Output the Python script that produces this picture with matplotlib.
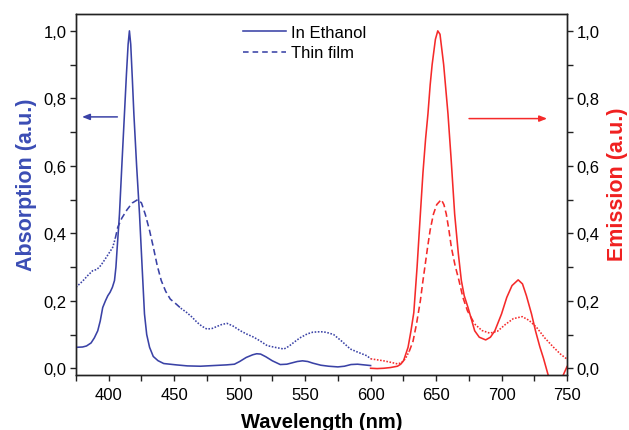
import matplotlib
matplotlib.use("Agg")
import matplotlib.pyplot as plt
from matplotlib.ticker import MultipleLocator, FuncFormatter

plt.rcParams['font.family'] = ['Liberation Sans', 'DejaVu Sans']

# Absorption in ethanol
abs_eth_x = [375, 380, 383, 386.5, 389, 391.6, 393.5, 395.4, 397.5, 399.3, 401, 402.8, 404.4, 405.5,
             406.5, 407.4, 408.2, 410, 412, 413.5, 414.8, 415.8, 416.8, 418, 419.2, 421.3, 423.5,
             425.5, 427.3, 429, 431.2, 434, 437.6, 442, 451.6, 460, 470, 480, 490, 496, 500, 505,
             510, 513, 516, 520, 525, 531, 536, 540, 544, 548, 552, 556, 562, 568, 575, 580, 585,
             590, 595, 600]
abs_eth_y = [0.062, 0.063, 0.066, 0.075, 0.09, 0.111, 0.14, 0.18, 0.2, 0.215, 0.225, 0.24, 0.26, 0.3,
             0.36, 0.41, 0.457, 0.6, 0.754, 0.87, 0.96, 1.0, 0.96, 0.86, 0.754, 0.6, 0.457, 0.3,
             0.161, 0.1, 0.062, 0.035, 0.0225, 0.014, 0.01, 0.007, 0.006, 0.008, 0.01, 0.012, 0.02,
             0.032, 0.04, 0.043, 0.042, 0.034, 0.022, 0.011, 0.012, 0.016, 0.02, 0.022, 0.02,
             0.015, 0.009, 0.006, 0.004, 0.006, 0.011, 0.012, 0.01, 0.008]

# Absorption of the thin film
abs_film_x = [375, 380, 384, 387.7, 391, 394, 397, 400, 403, 405, 406.9, 410, 414, 418, 422.2, 425,
              428, 431.2, 434, 437, 440.1, 443.5, 447, 451.6, 455, 459.3, 463.5, 467.5, 471, 475,
              479, 482.7, 486.5, 490.4, 495, 500.6, 505, 510.8, 516, 521, 527, 533.8, 537.5, 541.5,
              546, 551.7, 556, 560.6, 564, 567.5, 571.7, 578, 584.5, 590, 597.2, 600]
abs_film_y = [0.24, 0.258, 0.275, 0.289, 0.293, 0.305, 0.322, 0.34, 0.358, 0.385, 0.418, 0.445,
              0.47, 0.49, 0.5, 0.49, 0.455, 0.408, 0.36, 0.305, 0.26, 0.228, 0.205, 0.19, 0.178,
              0.166, 0.152, 0.136, 0.125, 0.116, 0.118, 0.124, 0.13, 0.133, 0.125, 0.111, 0.102,
              0.092, 0.08, 0.067, 0.062, 0.057, 0.065, 0.077, 0.09, 0.102, 0.107, 0.108, 0.108,
              0.105, 0.1, 0.08, 0.057, 0.048, 0.037, 0.028]

# Emission in ethanol
em_eth_x = [600, 605, 610, 615, 620.5, 623, 625.2, 628.6, 630.8, 633, 635.5, 638, 640, 642, 643.8,
            645.5, 647, 649.5, 651.3, 653, 655.8, 659.1, 661.5, 664.2, 667, 669.3, 671.5, 674.4,
            677, 679.5, 683, 687.9, 691.5, 694.9, 700, 704, 708, 712.7, 716, 719, 722.9, 726,
            729.3, 732, 735.6, 738, 742, 746, 750]
em_eth_y = [0.0, -0.001, 0.0, 0.002, 0.006, 0.012, 0.0225, 0.062, 0.11, 0.165, 0.3, 0.457, 0.58,
            0.68, 0.754, 0.84, 0.9, 0.975, 1.0, 0.99, 0.9, 0.754, 0.62, 0.457, 0.34, 0.26, 0.215,
            0.18, 0.145, 0.111, 0.092, 0.084, 0.092, 0.111, 0.161, 0.21, 0.245, 0.262, 0.25,
            0.215, 0.161, 0.11, 0.063, 0.03, -0.02, -0.04, -0.05, -0.03, 0.005]

# Emission of the thin film
em_film_x = [600, 605, 610, 615, 620.5, 623.5, 626.5, 629.5, 632.4, 635, 638, 640, 641.8, 643.5,
             645.5, 648, 650.5, 654, 656, 657.8, 659.8, 661.7, 664.5, 667.5, 670.5, 674, 679.5,
             685, 691, 697, 703, 709, 715.8, 721, 726.8, 733, 739.5, 745, 750]
em_film_y = [0.028, 0.025, 0.022, 0.018, 0.013, 0.016, 0.028, 0.05, 0.08, 0.13, 0.2, 0.26, 0.31,
             0.358, 0.41, 0.457, 0.485, 0.5, 0.485, 0.457, 0.41, 0.358, 0.305, 0.26, 0.21, 0.17,
             0.131, 0.112, 0.104, 0.11, 0.13, 0.147, 0.153, 0.142, 0.121, 0.09, 0.063, 0.042,
             0.027]

legend_labels = ["In Ethanol", "Thin film"]
x_ticks = [400, 450, 500, 550, 600, 650, 700, 750]
y_ticks = [0.0, 0.2, 0.4, 0.6, 0.8, 1.0]

BLUE = "#3a42a6"
RED = "#f52a2a"
AX_COLOR = "#222222"


def split_style(xs, ys, lo, hi):
    """Split a curve into dotted (flat) and dashed (steep) parts."""
    parts = [([], [], ':'), ([], [], '--'), ([], [], ':')]
    for x, y in zip(xs, ys):
        idx = 0 if x < lo else (1 if x <= hi else 2)
        parts[idx][0].append(x)
        parts[idx][1].append(y)
    # join the pieces so the curve stays continuous
    for i in range(2):
        if parts[i][0] and parts[i + 1][0]:
            parts[i][0].append(parts[i + 1][0][0])
            parts[i][1].append(parts[i + 1][1][0])
    return parts


fig = plt.figure(figsize=(6.29, 4.31), dpi=100)
ax = fig.add_axes([76 / 629, 1 - 376 / 431, 491 / 629, 361 / 431])
ax2 = ax.twinx()

lw = 1.15
h1, = ax.plot(abs_eth_x, abs_eth_y, color=BLUE, lw=lw)
for px, py, ls in split_style(abs_film_x, abs_film_y, 405, 452):
    if ls == ':':
        ax.plot(px, py, color=BLUE, lw=lw, linestyle=(0, (1, 1)))
    else:
        ax.plot(px, py, color=BLUE, lw=lw, linestyle=(0, (4, 2.2)))
h2, = ax.plot([], [], color=BLUE, lw=lw, linestyle=(0, (3.5, 2.5)))

ax2.plot(em_eth_x, em_eth_y, color=RED, lw=lw)
for px, py, ls in split_style(em_film_x, em_film_y, 628, 676):
    if ls == ':':
        ax2.plot(px, py, color=RED, lw=lw, linestyle=(0, (1, 1)))
    else:
        ax2.plot(px, py, color=RED, lw=lw, linestyle=(0, (4, 2.2)))

for a in (ax, ax2):
    a.set_xlim(375, 750)
    a.set_ylim(-0.02, 1.05)
    for s in a.spines.values():
        s.set_color(AX_COLOR)
        s.set_linewidth(1.0)

fmt = FuncFormatter(lambda v, p: f"{v:.1f}".replace('.', ','))
ax.set_xticks(x_ticks)
ax.xaxis.set_minor_locator(MultipleLocator(25))
ax.set_yticks(y_ticks)
ax.yaxis.set_minor_locator(MultipleLocator(0.1))
ax.yaxis.set_major_formatter(fmt)
ax2.set_yticks(y_ticks)
ax2.yaxis.set_minor_locator(MultipleLocator(0.1))
ax2.yaxis.set_major_formatter(fmt)

ax.tick_params(axis='x', which='both', direction='out', length=4, width=1.0,
               color=AX_COLOR, labelsize=12, pad=5, top=False)
ax.tick_params(axis='y', which='both', direction='out', length=4, width=1.0,
               color=AX_COLOR, labelsize=12, pad=3, right=False)
ax2.tick_params(axis='y', which='both', direction='out', length=4, width=1.0,
                color=AX_COLOR, labelsize=12, pad=3, left=False)

ax.set_xlabel("Wavelength (nm)", fontsize=14.5, fontweight='bold', color='black')
ax.xaxis.set_label_coords(0.5, -0.103)
ax.set_ylabel("Absorption (a.u.)", fontsize=15.5, fontweight='bold', color="#3b4db5")
ax.yaxis.set_label_coords(-0.1, 0.53)
ax.yaxis.label.set_va('center')
ax2.set_ylabel("Emission (a.u.)", fontsize=15.5, fontweight='bold', color="#f02020",
               rotation=90)
ax2.yaxis.set_label_coords(1.102, 0.53)
ax2.yaxis.label.set_va('center')

ax.annotate("", xy=(379.6, 0.745), xytext=(406.6, 0.745),
            arrowprops=dict(arrowstyle='-|>,head_length=0.45,head_width=0.18',
                            color=BLUE, lw=1.1, shrinkA=0, shrinkB=0))
ax2.annotate("", xy=(734.8, 0.74), xytext=(675.2, 0.74),
             arrowprops=dict(arrowstyle='-|>,head_length=0.45,head_width=0.18',
                             color=RED, lw=1.1, shrinkA=0, shrinkB=0))

leg = ax.legend([h1, h2], legend_labels, loc='upper left',
                bbox_to_anchor=(238 / 629, 1 - 21 / 431), bbox_transform=fig.transFigure,
                frameon=False, fontsize=12, handlelength=2.6, handletextpad=0.3,
                labelspacing=0.33, borderaxespad=0, borderpad=0.3)
ax2.set_zorder(ax.get_zorder() - 1)
ax.patch.set_visible(False)

fig.savefig("out.png", dpi=100)
